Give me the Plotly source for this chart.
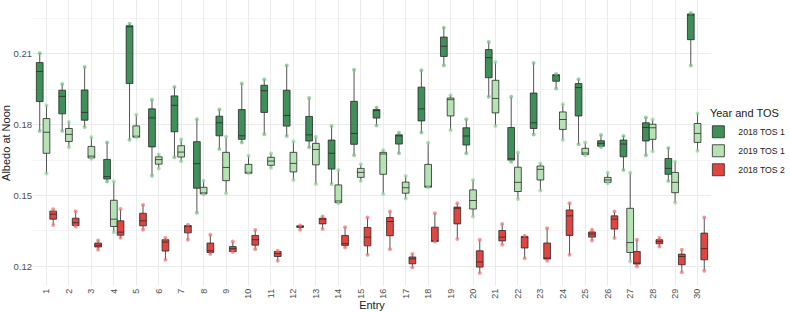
import plotly.graph_objects as go

entries = list(range(1, 31))
tick_labels = [str(e) for e in entries]

# 2018 TOS 1 (dark green): lower whisker, q1, median, q3, upper whisker
d_low = [0.1773, 0.1773, 0.1790, 0.1559, 0.1736, 0.1584, 0.1662, 0.1427, 0.1697, 0.1725,
         0.1760, 0.1752, 0.1705, 0.1549, 0.1671, 0.1797, 0.1679, 0.1767, 0.2051, 0.1679,
         0.1918, 0.1643, 0.1759, 0.1953, 0.1717, 0.1706, 0.1608, 0.1671, 0.1562, 0.2051]
d_q1 = [0.1898, 0.1846, 0.1819, 0.1570, 0.1974, 0.1706, 0.1770, 0.1531, 0.1753, 0.1738,
        0.1852, 0.1794, 0.1731, 0.1612, 0.1717, 0.1828, 0.1718, 0.1816, 0.2089, 0.1714,
        0.1999, 0.1650, 0.1784, 0.1984, 0.1837, 0.1709, 0.1664, 0.1731, 0.1590, 0.2160]
d_med = [0.2025, 0.1920, 0.1852, 0.1580, 0.2216, 0.1829, 0.1882, 0.1635, 0.1808, 0.1753,
         0.1944, 0.1839, 0.1757, 0.1679, 0.1763, 0.1861, 0.1756, 0.1867, 0.2132, 0.1752,
         0.2084, 0.1656, 0.1808, 0.2008, 0.1957, 0.1721, 0.1718, 0.1788, 0.1615, 0.2266]
d_q3 = [0.2063, 0.1946, 0.1947, 0.1653, 0.2219, 0.1867, 0.1922, 0.1728, 0.1836, 0.1864,
        0.1967, 0.1946, 0.1835, 0.1735, 0.1899, 0.1864, 0.1757, 0.1959, 0.2171, 0.1787,
        0.2118, 0.1788, 0.1934, 0.2012, 0.1974, 0.1732, 0.1735, 0.1808, 0.1657, 0.2269]
d_high = [0.2103, 0.1972, 0.2044, 0.1725, 0.2227, 0.1906, 0.1960, 0.1823, 0.1864, 0.1974,
          0.1991, 0.2051, 0.1913, 0.1794, 0.2033, 0.1873, 0.1766, 0.2031, 0.2211, 0.1823,
          0.2150, 0.1918, 0.2061, 0.2015, 0.1992, 0.1756, 0.1752, 0.1830, 0.1701, 0.2273]

# 2019 TOS 1 (light green)
l_low = [0.1593, 0.1705, 0.1656, 0.1345, 0.1747, 0.1615, 0.1645, 0.1504, 0.1510, 0.1594,
         0.1618, 0.1566, 0.1549, 0.1467, 0.1562, 0.1507, 0.1487, 0.1535, 0.1777, 0.1411,
         0.1794, 0.1485, 0.1521, 0.1735, 0.1671, 0.1552, 0.1221, 0.1688, 0.1471, 0.1690]
l_q1 = [0.1679, 0.1729, 0.1659, 0.1369, 0.1747, 0.1633, 0.1663, 0.1507, 0.1563, 0.1594,
        0.1628, 0.1600, 0.1630, 0.1470, 0.1577, 0.1590, 0.1510, 0.1535, 0.1837, 0.1443,
        0.1850, 0.1517, 0.1566, 0.1780, 0.1674, 0.1556, 0.1259, 0.1738, 0.1512, 0.1725]
l_med = [0.1768, 0.1759, 0.1667, 0.1400, 0.1749, 0.1652, 0.1684, 0.1510, 0.1619, 0.1594,
         0.1646, 0.1636, 0.1695, 0.1477, 0.1598, 0.1676, 0.1533, 0.1535, 0.1906, 0.1479,
         0.1911, 0.1556, 0.1611, 0.1822, 0.1680, 0.1566, 0.1301, 0.1787, 0.1556, 0.1763]
l_q3 = [0.1826, 0.1784, 0.1708, 0.1480, 0.1795, 0.1664, 0.1711, 0.1535, 0.1683, 0.1632,
        0.1662, 0.1683, 0.1721, 0.1545, 0.1615, 0.1683, 0.1557, 0.1632, 0.1913, 0.1524,
        0.1988, 0.1620, 0.1625, 0.1854, 0.1700, 0.1577, 0.1446, 0.1802, 0.1598, 0.1805]
l_high = [0.1881, 0.1811, 0.1747, 0.1559, 0.1842, 0.1674, 0.1738, 0.1563, 0.1749, 0.1668,
          0.1678, 0.1729, 0.1749, 0.1608, 0.1632, 0.1692, 0.1583, 0.1724, 0.1925, 0.1566,
          0.2065, 0.1682, 0.1636, 0.1887, 0.1725, 0.1597, 0.1597, 0.1822, 0.1643, 0.1847]

# 2018 TOS 2 (red)
r_low = [0.1375, 0.1369, 0.1270, 0.1321, 0.1355, 0.1228, 0.1313, 0.1252, 0.1261, 0.1273,
         0.1224, 0.1355, 0.1358, 0.1280, 0.1249, 0.1273, 0.1196, 0.1305, 0.1316, 0.1172,
         0.1292, 0.1235, 0.1224, 0.1249, 0.1310, 0.1320, 0.1200, 0.1284, 0.1175, 0.1182]
r_q1 = [0.1400, 0.1373, 0.1282, 0.1332, 0.1372, 0.1265, 0.1342, 0.1259, 0.1263, 0.1290,
        0.1242, 0.1365, 0.1380, 0.1289, 0.1287, 0.1330, 0.1211, 0.1305, 0.1380, 0.1197,
        0.1308, 0.1278, 0.1231, 0.1331, 0.1324, 0.1358, 0.1210, 0.1296, 0.1207, 0.1228]
r_med = [0.1421, 0.1385, 0.1289, 0.1345, 0.1393, 0.1303, 0.1369, 0.1266, 0.1275, 0.1313,
         0.1254, 0.1369, 0.1400, 0.1296, 0.1324, 0.1390, 0.1232, 0.1309, 0.1446, 0.1219,
         0.1324, 0.1324, 0.1235, 0.1414, 0.1337, 0.1400, 0.1214, 0.1305, 0.1242, 0.1275]
r_q3 = [0.1434, 0.1404, 0.1299, 0.1393, 0.1425, 0.1313, 0.1373, 0.1299, 0.1284, 0.1331,
        0.1263, 0.1372, 0.1404, 0.1331, 0.1365, 0.1407, 0.1240, 0.1366, 0.1451, 0.1266,
        0.1352, 0.1327, 0.1299, 0.1439, 0.1346, 0.1414, 0.1263, 0.1313, 0.1252, 0.1341]
r_high = [0.1442, 0.1434, 0.1310, 0.1443, 0.1460, 0.1320, 0.1376, 0.1334, 0.1305, 0.1354,
          0.1266, 0.1373, 0.1411, 0.1366, 0.1407, 0.1432, 0.1252, 0.1425, 0.1467, 0.1313,
          0.1380, 0.1330, 0.1362, 0.1467, 0.1355, 0.1432, 0.1313, 0.1320, 0.1270, 0.1407]

series = [
    ("2018 TOS 1", -0.3, d_low, d_q1, d_med, d_q3, d_high, "#3f8f58", "#6fbf80"),
    ("2019 TOS 1", 0.0, l_low, l_q1, l_med, l_q3, l_high, "#b6e3b3", "#8fd39a"),
    ("2018 TOS 2", 0.3, r_low, r_q1, r_med, r_q3, r_high, "#e0453f", "#f07070"),
]

fig = go.Figure()
for name, off, lo, q1, med, q3, hi, fill, dot in series:
    xs = [e + off for e in entries]
    fig.add_trace(go.Box(
        name=name, x=xs, q1=q1, median=med, q3=q3,
        lowerfence=lo, upperfence=hi,
        width=0.3, whiskerwidth=0,
        fillcolor=fill, line=dict(color="rgba(40,40,40,0.8)", width=1),
        boxpoints=False, showlegend=True, legendgroup=name,
    ))
    fig.add_trace(go.Scatter(
        x=xs + xs, y=lo + hi, mode="markers",
        marker=dict(color=dot, size=4, opacity=0.7),
        showlegend=False, legendgroup=name, hoverinfo="skip",
    ))

fig.update_layout(
    width=790, height=312,
    margin=dict(l=33, r=79, t=0, b=26, autoexpand=False),
    paper_bgcolor="white", plot_bgcolor="white",
    boxmode="overlay",
    font=dict(family="Liberation Sans, Arial, sans-serif", color="#4d4d4d", size=9),
    legend=dict(
        title=dict(text="Year and TOS", font=dict(size=11, color="#222"), side="top center"),
        xref="container", yref="container",
        x=0.884, xanchor="left", y=0.67, yanchor="top",
        font=dict(size=8.7, color="#222"),
        bgcolor="rgba(0,0,0,0)",
        tracegroupgap=0, itemwidth=30,
    ),
)
fig.update_xaxes(
    range=[0.4, 30.6], tickmode="array", tickvals=entries, ticktext=tick_labels,
    tickangle=-90, showgrid=True, gridcolor="#ebebeb", gridwidth=1,
    zeroline=False, showline=False, ticks="", automargin=False,
    title=dict(text="Entry", font=dict(size=11, color="#222"), standoff=2),
    tickfont=dict(size=9, color="#4d4d4d"),
)
fig.update_yaxes(
    range=[0.1117, 0.2328], tickmode="linear", tick0=0.12, dtick=0.03,
    tickformat=".2f", showgrid=True, gridcolor="#ebebeb", gridwidth=1,
    minor=dict(tick0=0.105, dtick=0.03, showgrid=True, gridcolor="#f4f4f4", gridwidth=0.6),
    zeroline=False, showline=False, ticks="", automargin=False,
    title=dict(text="Albedo at Noon", font=dict(size=11, color="#222"), standoff=4),
    tickfont=dict(size=9.5, color="#4d4d4d"),
)

fig.write_html("out.html")
